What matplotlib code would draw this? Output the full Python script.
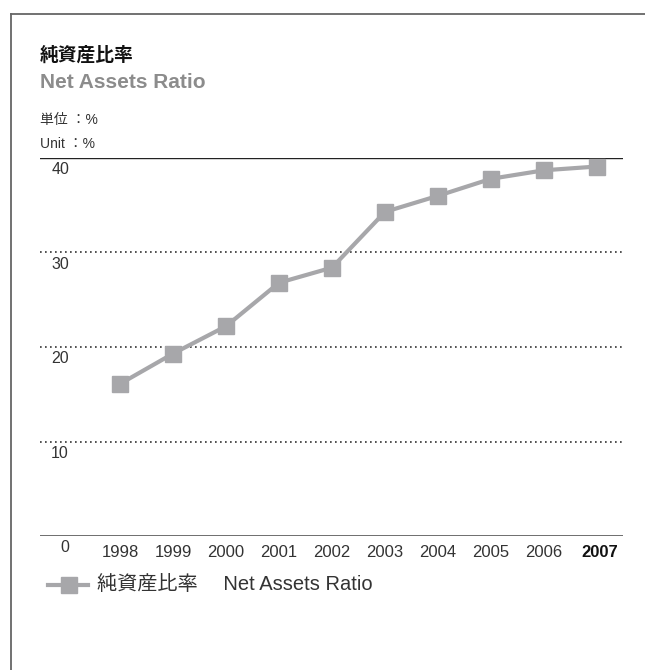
import matplotlib
matplotlib.use("Agg")
import matplotlib.pyplot as plt
from matplotlib.lines import Line2D

plt.rcParams['font.family'] = ['Liberation Sans', 'Noto Sans CJK JP', 'DejaVu Sans']

years = [1998, 1999, 2000, 2001, 2002, 2003, 2004, 2005, 2006, 2007]
net_assets_ratio = [16.1, 19.3, 22.2, 26.8, 28.4, 34.3, 36.0, 37.8, 38.7, 39.1]
y_ticks = [0, 10, 20, 30, 40]

title_jp = "純資産比率"
title_en = "Net Assets Ratio"
unit_jp = "単位 ：%"
unit_en = "Unit ：%"
legend_label = "純資産比率　 Net Assets Ratio"

W, H = 645, 670
GRAY = "#a7a7aa"

fig = plt.figure(figsize=(W / 100, H / 100), dpi=100)

# plot area in pixels: x 40..623, y 158 (40) .. 536 (0)
ax = fig.add_axes([40 / W, 1 - 536 / H, 583 / W, 378 / H])
ax.set_xlim(1996.49, 2007.49)
ax.set_ylim(0, 40)

ax.plot(years, net_assets_ratio, color=GRAY, linewidth=3.0, marker="s",
        markersize=11.5, markerfacecolor=GRAY, markeredgecolor=GRAY, zorder=3,
        clip_on=False)

for spine in ax.spines.values():
    spine.set_visible(False)
ax.set_xticks([])
ax.set_yticks([])

ax.axhline(40, color="#222222", linewidth=1.0)
ax.axhline(0, color="#555555", linewidth=1.2)
for v in (10, 20, 30):
    ax.axhline(v, color="#333333", linewidth=1.2, linestyle=(0, (1, 2)))

for v in y_ticks:
    if v:
        ax.text(1996.7, v - 0.45, str(v), ha="left", va="top",
                fontsize=11.5, color="#333333")
    else:
        ax.text(1996.95, v - 0.45, str(v), ha="center", va="top",
                fontsize=11.5, color="#333333")

for yr in years:
    bold = yr == years[-1]
    ax.text(yr + (0.05 if bold else 0), -1.0, str(yr), ha="center", va="top",
            fontsize=12, color="#111111" if bold else "#333333",
            fontweight="bold" if bold else "normal")

# titles
fig.text(40 / W, 1 - 61 / H, title_jp, fontsize=13.5, fontweight="bold",
         color="#111111", ha="left", va="baseline")
fig.text(40 / W, 1 - 88 / H, title_en, fontsize=15, fontweight="bold",
         color="#8c8c8c", ha="left", va="baseline")
fig.text(40 / W, 1 - 124 / H, unit_jp, fontsize=10, color="#333333",
         ha="left", va="baseline")
fig.text(40 / W, 1 - 148 / H, unit_en, fontsize=10, color="#333333",
         ha="left", va="baseline")

# legend
fig.add_artist(Line2D([48 / W, 88 / W], [1 - 585 / H] * 2, color=GRAY,
                      linewidth=3.0, transform=fig.transFigure))
fig.add_artist(Line2D([69 / W], [1 - 585 / H], color=GRAY, marker="s",
                      markersize=11.5, linestyle="none",
                      transform=fig.transFigure))
fig.text(97 / W, 1 - 585 / H, legend_label, fontsize=14.5, color="#333333",
         ha="left", va="center")

# frame
fig.add_artist(Line2D([11 / W, 11 / W], [0, 1 - 14 / H], color="#666666",
                      linewidth=1.3, transform=fig.transFigure))
fig.add_artist(Line2D([11 / W, 1], [1 - 14 / H] * 2, color="#666666",
                      linewidth=1.3, transform=fig.transFigure))

fig.savefig("out.png", dpi=100)
